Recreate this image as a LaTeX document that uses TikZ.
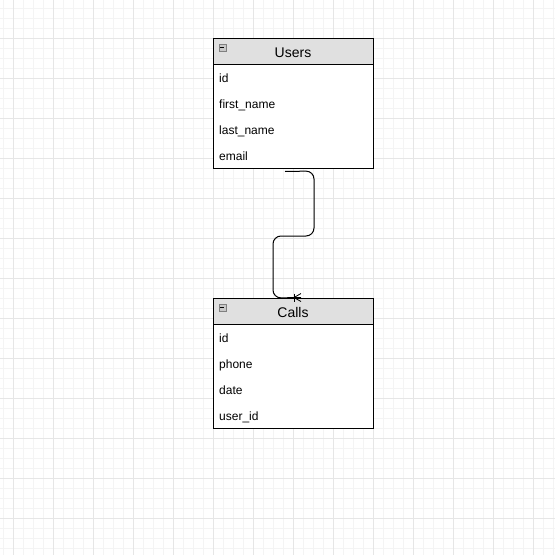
\documentclass[tikz,border=0pt]{standalone}
\usepackage{fontspec}
\setmainfont{Liberation Sans}
\definecolor{gridminor}{HTML}{F4F4F4}
\definecolor{gridmajor}{HTML}{E6E6E6}
\definecolor{headfill}{HTML}{E0E0E0}
\definecolor{iconfill}{HTML}{C8C8C8}

\begin{document}
\begin{tikzpicture}[x=1pt, y=-1pt,
    head/.style={rectangle, draw=black, fill=headfill, line width=1pt, minimum width=160pt, minimum height=26pt, inner sep=0pt, text height=12pt, text depth=0pt, font=\fontsize{14}{16}\selectfont},
    body/.style={rectangle, draw=black, fill=white, line width=1pt, minimum width=160pt, minimum height=104pt, inner sep=0pt},
    field/.style={anchor=base west, inner sep=0pt, font=\fontsize{12}{14}\selectfont},
    icon/.style={rectangle, draw=gray, fill=iconfill, line width=0.8pt, minimum size=7pt, inner sep=0pt},
    link/.style={line width=1pt, rounded corners=8pt}
]
    % Background grid
    \useasboundingbox (0,0) rectangle (555,555);
    \fill[white] (0,0) rectangle (555,555);
    \foreach \x in {3,13,...,553} \draw[gridminor, line width=1pt] (\x,0) -- (\x,555);
    \foreach \y in {8,18,...,548} \draw[gridminor, line width=1pt] (0,\y) -- (555,\y);
    \foreach \x in {13,53,...,533} \draw[gridmajor, line width=1pt] (\x,0) -- (\x,555);
    \foreach \y in {38,78,...,518} \draw[gridmajor, line width=1pt] (0,\y) -- (555,\y);

    % Users table
    \node[body] (users) at (293,116) {};
    \node[head] (users_head) at (293,51) {Users};
    \node[icon] (users_icon) at (222.5,47.5) {};
    \draw[line width=1pt] (users_icon.west) ++(1.5,0) -- ++(4,0);
    \node[field] (users_id) at (219,82) {id};
    \node[field] (users_first) at (219,108) {first\_name};
    \node[field] (users_last) at (219,134) {last\_name};
    \node[field] (users_email) at (219,160) {email};

    % Calls table
    \node[body] (calls) at (293,376) {};
    \node[head] (calls_head) at (293,311) {Calls};
    \node[icon] (calls_icon) at (222.5,307.5) {};
    \draw[line width=1pt] (calls_icon.west) ++(1.5,0) -- ++(4,0);
    \node[field] (calls_id) at (219,342) {id};
    \node[field] (calls_phone) at (219,368) {phone};
    \node[field] (calls_date) at (219,394) {date};
    \node[field] (calls_user) at (219,420) {user\_id};

    % Relation Users -> Calls
    \coordinate (from) at ([xshift=-8pt, yshift=-3pt]users.south);
    \coordinate (to) at ([xshift=8pt]calls_head.north);
    \draw[link] (from) -- (314,171) -- (314,236) -- (273,236) -- (273,298) -- (to);
    \draw[line width=0.8pt] ([xshift=-7pt, yshift=4pt]to) -- ([xshift=-7pt, yshift=-4pt]to);
    \draw[line width=0.8pt] ([xshift=-7pt]to) -- ([yshift=4pt]to);
    \draw[line width=0.8pt] ([xshift=-7pt]to) -- ([yshift=-4pt]to);
\end{tikzpicture}
\end{document}
